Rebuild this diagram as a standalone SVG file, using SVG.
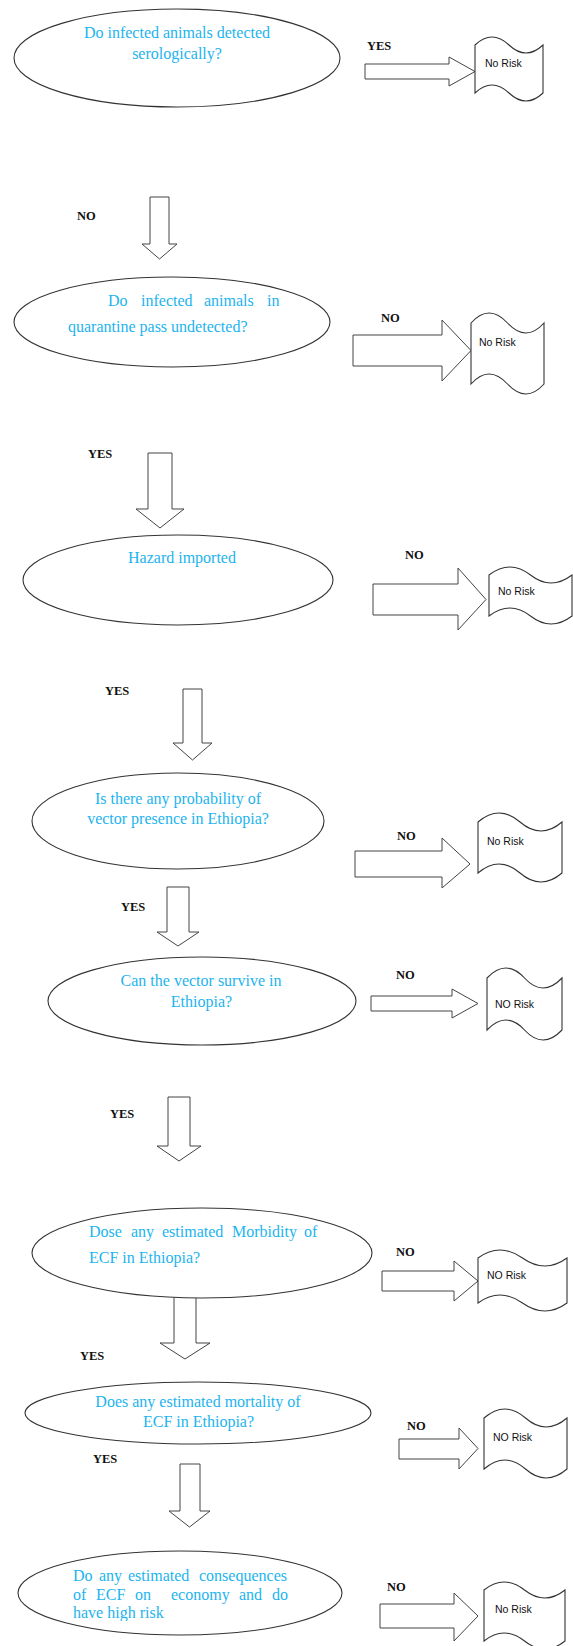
<svg xmlns="http://www.w3.org/2000/svg" width="573" height="1646" viewBox="0 0 573 1646">
<defs>
<style>
.q{font-family:"Liberation Serif","Times New Roman",serif;font-size:16px;fill:#1CB4EE}
.c{text-anchor:middle}
.lb{font-family:"Liberation Serif","Times New Roman",serif;font-size:12.5px;font-weight:bold;fill:#111}
.nr{font-family:"Liberation Sans",Arial,sans-serif;font-size:10.5px;fill:#111}
.sh{fill:#fff;stroke:#333;stroke-width:1.1}
.ar{fill:#fff;stroke:#444;stroke-width:1}
</style>
<clipPath id="clip8"><rect x="60" y="1560" width="260" height="61"/></clipPath>
</defs>
<rect width="573" height="1646" fill="#fff"/>

<g id="connectors">
<!-- right arrows -->
<path class="ar" d="M365,64 H449 V57 L475,71.5 L449,86 V79 H365 Z"/>
<path class="ar" d="M353,335 H442 V320 L471,350.5 L442,381 V366 H353 Z"/>
<path class="ar" d="M373,584 H458 V568 L486,599.5 L458,630 V615 H373 Z"/>
<path class="ar" d="M355,851 H442 V838 L470,864 L442,888 V877 H355 Z"/>
<path class="ar" d="M371,996 H452 V989 L478,1003.5 L452,1018 V1011 H371 Z"/>
<path class="ar" d="M382,1271 H454 V1261 L478,1281 L454,1301 V1291 H382 Z"/>
<path class="ar" d="M399,1439 H459 V1428 L478,1448.5 L459,1469 V1459 H399 Z"/>
<path class="ar" d="M380,1604 H454 V1593 L478,1616 L454,1641 V1628 H380 Z"/>
<!-- down arrows -->
<path class="ar" d="M150,197 H169 V244 H177 L159.5,259 L142,244 H150 Z"/>
<path class="ar" d="M148,453 H172 V509 H184 L160,528 L136,509 H148 Z"/>
<path class="ar" d="M183,689 H202 V743 H212 L192.5,760 L173,743 H183 Z"/>
<path class="ar" d="M167,887 H189 V932 H199 L178,946 L157,932 H167 Z"/>
<path class="ar" d="M168,1097 H190 V1146 H201 L179,1161 L157,1146 H168 Z"/>
<path class="ar" d="M174,1292 H196 V1343 H210 L185,1359 L160,1343 H174 Z"/>
<path class="ar" d="M180,1464 H200 V1511 H210 L189.5,1527 L169,1511 H180 Z"/>
<!-- labels -->
<text class="lb" x="367" y="50">YES</text>
<text class="lb" x="77" y="220">NO</text>
<text class="lb" x="381" y="322">NO</text>
<text class="lb" x="88" y="458">YES</text>
<text class="lb" x="405" y="559">NO</text>
<text class="lb" x="105" y="695">YES</text>
<text class="lb" x="397" y="840">NO</text>
<text class="lb" x="121" y="911">YES</text>
<text class="lb" x="396" y="979">NO</text>
<text class="lb" x="110" y="1118">YES</text>
<text class="lb" x="396" y="1256">NO</text>
<text class="lb" x="80" y="1360">YES</text>
<text class="lb" x="407" y="1430">NO</text>
<text class="lb" x="93" y="1463">YES</text>
<text class="lb" x="387" y="1591">NO</text>
</g>

<g id="q1">
<ellipse class="sh" cx="177" cy="58" rx="163" ry="49"/>
<text class="q c" x="177" y="38">Do infected animals detected</text>
<text class="q c" x="177" y="59">serologically?</text>
</g>
<g id="r1">
<path class="sh" d="M475,45 Q492,29 509,45 Q526,61 543,45 V93 Q526,109 509,93 Q492,77 475,93 Z"/>
<text class="nr" x="485" y="67">No Risk</text>
</g>

<g id="q2">
<ellipse class="sh" cx="172" cy="322" rx="158" ry="45"/>
<text class="q" y="306"><tspan x="108">Do</tspan><tspan x="141">infected</tspan><tspan x="204">animals</tspan><tspan x="267">in</tspan></text>
<text class="q" x="68" y="332">quarantine pass undetected?</text>
</g>
<g id="r2">
<path class="sh" d="M471,323 Q489,303 507.5,323 Q526,343 544,323 V384 Q526,404 507.5,384 Q489,364 471,384 Z"/>
<text class="nr" x="479" y="346">No Risk</text>
</g>

<g id="q3">
<ellipse class="sh" cx="178" cy="580" rx="155" ry="45"/>
<text class="q c" x="182" y="563">Hazard imported</text>
</g>
<g id="r3">
<path class="sh" d="M489,575 Q510,559 530.5,575 Q551,591 572,575 V616 Q551,632 530.5,616 Q510,600 489,616 Z"/>
<text class="nr" x="498" y="595">No Risk</text>
</g>

<g id="q4">
<ellipse class="sh" cx="178" cy="821" rx="146" ry="48"/>
<text class="q c" x="178" y="804">Is there any probability of</text>
<text class="q c" x="178" y="824">vector presence in Ethiopia?</text>
</g>
<g id="r4">
<path class="sh" d="M478,822 Q499,804 520,822 Q541,840 562,822 V873 Q541,891 520,873 Q499,855 478,873 Z"/>
<text class="nr" x="487" y="845">No Risk</text>
</g>

<g id="q5">
<ellipse class="sh" cx="202" cy="1001" rx="154" ry="44"/>
<text class="q c" x="201" y="986">Can the vector survive in</text>
<text class="q c" x="201.5" y="1007">Ethiopia?</text>
</g>
<g id="r5">
<path class="sh" d="M487,978 Q506,958 524.5,978 Q543,998 562,978 V1030 Q543,1050 524.5,1030 Q506,1010 487,1030 Z"/>
<text class="nr" x="495" y="1008">NO Risk</text>
</g>

<g id="q6">
<ellipse class="sh" cx="202" cy="1253" rx="170" ry="45"/>
<text class="q" y="1237"><tspan x="89">Dose</tspan><tspan x="131">any</tspan><tspan x="162">estimated</tspan><tspan x="232">Morbidity</tspan><tspan x="304">of</tspan></text>
<text class="q" x="89" y="1263">ECF in Ethiopia?</text>
</g>
<g id="r6">
<path class="sh" d="M478,1258 Q500,1242 522.5,1258 Q545,1274 567,1258 V1303 Q545,1319 522.5,1303 Q500,1287 478,1303 Z"/>
<text class="nr" x="487" y="1279">NO Risk</text>
</g>

<g id="q7">
<ellipse class="sh" cx="198" cy="1413" rx="173" ry="31"/>
<text class="q c" x="198" y="1407">Does any estimated mortality of</text>
<text class="q c" x="198.5" y="1427">ECF in Ethiopia?</text>
</g>
<g id="r7">
<path class="sh" d="M484,1418 Q505,1400 525.5,1418 Q546,1436 567,1418 V1469 Q546,1487 525.5,1469 Q505,1451 484,1469 Z"/>
<text class="nr" x="493" y="1441">NO Risk</text>
</g>

<g id="q8">
<ellipse class="sh" cx="180" cy="1593" rx="162" ry="42"/>
<g clip-path="url(#clip8)">
<text class="q" y="1581"><tspan x="73">Do</tspan><tspan x="99">any</tspan><tspan x="128">estimated</tspan><tspan x="199">consequences</tspan></text>
<text class="q" y="1600"><tspan x="73">of</tspan><tspan x="96">ECF</tspan><tspan x="135">on</tspan><tspan x="171">economy</tspan><tspan x="239">and</tspan><tspan x="272">do</tspan></text>
<text class="q" x="73" y="1618">have high risk</text>
</g>
</g>
<g id="r8">
<path class="sh" d="M484,1590 Q504,1574 524.5,1590 Q545,1606 565,1590 V1641 Q545,1657 524.5,1641 Q504,1625 484,1641 Z"/>
<text class="nr" x="495" y="1613">No Risk</text>
</g>
</svg>
